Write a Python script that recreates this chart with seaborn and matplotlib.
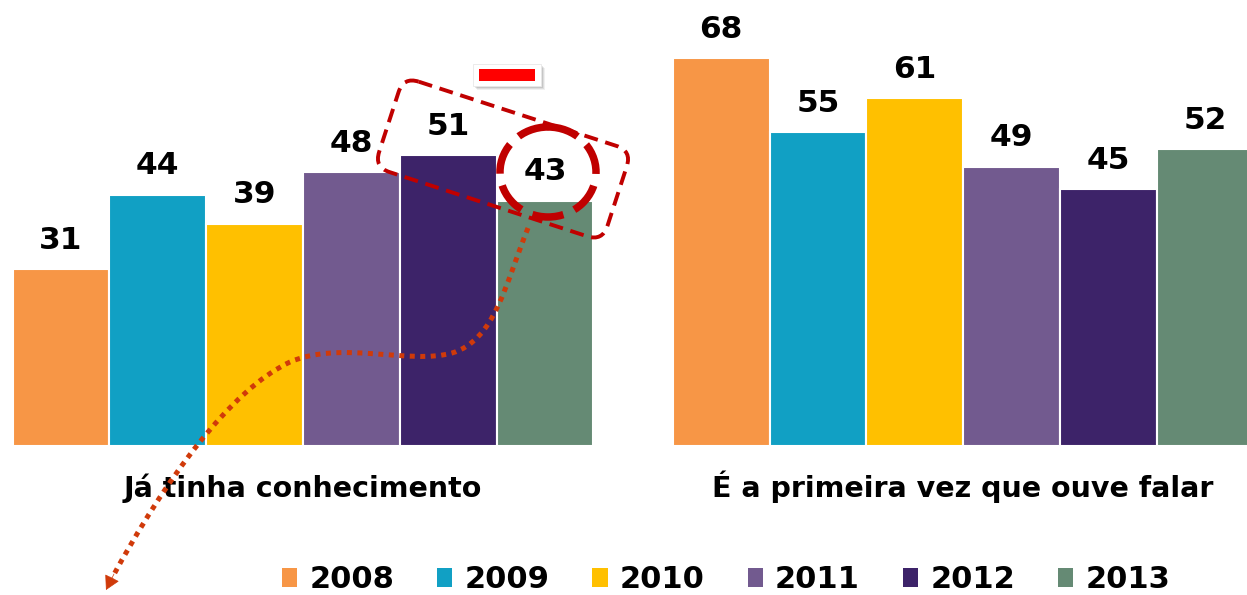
import numpy as np
import pandas as pd
import seaborn as sns
import matplotlib
matplotlib.use("Agg")
import matplotlib.pyplot as plt
from matplotlib.patches import FancyBboxPatch, Ellipse, Rectangle, PathPatch, Patch
from matplotlib.path import Path
from matplotlib.transforms import Affine2D, blended_transform_factory

# --- data -------------------------------------------------------------
categorias = ["Já tinha conhecimento", "É a primeira vez que ouve falar"]
anos = ["2008", "2009", "2010", "2011", "2012", "2013"]
ja_tinha = [31, 44, 39, 48, 51, 43]
primeira_vez = [68, 55, 61, 49, 45, 52]
cores = ["#F79646", "#11A0C4", "#FFC000", "#725A8F", "#3D2369", "#658A74"]

df = pd.DataFrame({
    "categoria": [categorias[0]] * len(anos) + [categorias[1]] * len(anos),
    "ano": anos + anos,
    "valor": ja_tinha + primeira_vez,
})

# --- style ------------------------------------------------------------
sns.set_style("white")
plt.rcParams["font.family"] = ["DejaVu Sans"]
plt.rcParams["text.color"] = "black"

W, H = 1247, 595
fig = plt.figure(figsize=(W / 100, H / 100), dpi=100)
ax = fig.add_axes([0, 149 / H, 1, 446 / H])

sns.barplot(data=df, x="categoria", y="valor", hue="ano", order=categorias,
            hue_order=anos, palette=cores, width=0.88, edgecolor="white",
            linewidth=1.5, saturation=1, legend=False, ax=ax)

ax.set_xlim(-0.459, 1.430)
ax.set_ylim(0, 78.2)
for s in ax.spines.values():
    s.set_visible(False)
ax.set_yticks([])
ax.set_xlabel("")
ax.set_ylabel("")
ax.tick_params(axis="x", length=0, labelbottom=False)

# category names on a common baseline below each group
trans = blended_transform_factory(ax.transData, fig.transFigure)
for i, nome in enumerate(categorias):
    ax.text(i, 1 - 497 / H, nome, transform=trans, ha="center", va="baseline",
            fontsize=20.5, fontweight="bold", color="black")

for cont in ax.containers:
    ax.bar_label(cont, fmt="%d", padding=10.5, fontsize=22.5, fontweight="bold",
                 color="black")

# --- legend -------------------------------------------------------------
handles = [Patch(facecolor=c, edgecolor="none", label=a) for a, c in zip(anos, cores)]
leg = fig.legend(handles=handles, loc="center", bbox_to_anchor=(726 / W, 1 - 580 / H),
                 ncol=6, frameon=False, prop={"weight": "bold", "size": 22},
                 handlelength=0.5, handleheight=0.55, handletextpad=0.4,
                 columnspacing=1.4, borderpad=0)
for t in leg.get_texts():
    t.set_color("black")

# --- highlight overlay (pixel coordinates) -----------------------------
ov = fig.add_axes([0, 0, 1, 1], zorder=5)
ov.set_xlim(0, W)
ov.set_ylim(H, 0)
ov.axis("off")
ov.patch.set_alpha(0)

dark_red = "#C00000"
cx, cy = 503, 159
bw, bh = 240, 95
box = FancyBboxPatch((cx - bw / 2, cy - bh / 2), bw, bh,
                     boxstyle="round,pad=0,rounding_size=16",
                     fill=False, edgecolor=dark_red, linewidth=2.8,
                     linestyle=(0, (3.6, 2.0)))
box.set_transform(Affine2D().rotate_deg_around(cx, cy, 18) + ov.transData)
ov.add_patch(box)

ov.add_patch(Ellipse((548, 172), 96, 90, fill=False, edgecolor=dark_red,
                     linewidth=5.4, linestyle=(0, (4.2, 1.6))))

# minus badge with soft shadow
for i, a in enumerate([0.10, 0.08, 0.06]):
    ov.add_patch(Rectangle((473 + 2 + i, 64 + 2 + i), 68, 22, facecolor="black",
                           edgecolor="none", alpha=a))
ov.add_patch(Rectangle((473, 64), 68, 22, facecolor="white", edgecolor="#E8E8E8",
                       linewidth=0.6))
ov.add_patch(Rectangle((479, 69), 56, 12, facecolor="#FF0000", edgecolor="none"))

# dotted curved arrow
arrow_col = "#D03A0A"
verts = [(528, 228),
         (505, 285), (495, 340), (452, 353),
         (410, 365), (340, 340), (290, 362),
         (230, 390), (165, 480), (112, 578)]
codes = [Path.MOVETO] + [Path.CURVE4] * 9
ov.add_patch(PathPatch(Path(verts, codes), fill=False, edgecolor=arrow_col,
                       linewidth=3.6, linestyle=(0, (1, 1.1)), capstyle="butt"))
ov.annotate("", xy=(106, 590), xytext=(114, 574),
            arrowprops=dict(arrowstyle="-|>,head_length=0.9,head_width=0.5",
                            color=arrow_col, linewidth=0.5, shrinkA=0, shrinkB=0))

fig.savefig("out.png", dpi=100)
